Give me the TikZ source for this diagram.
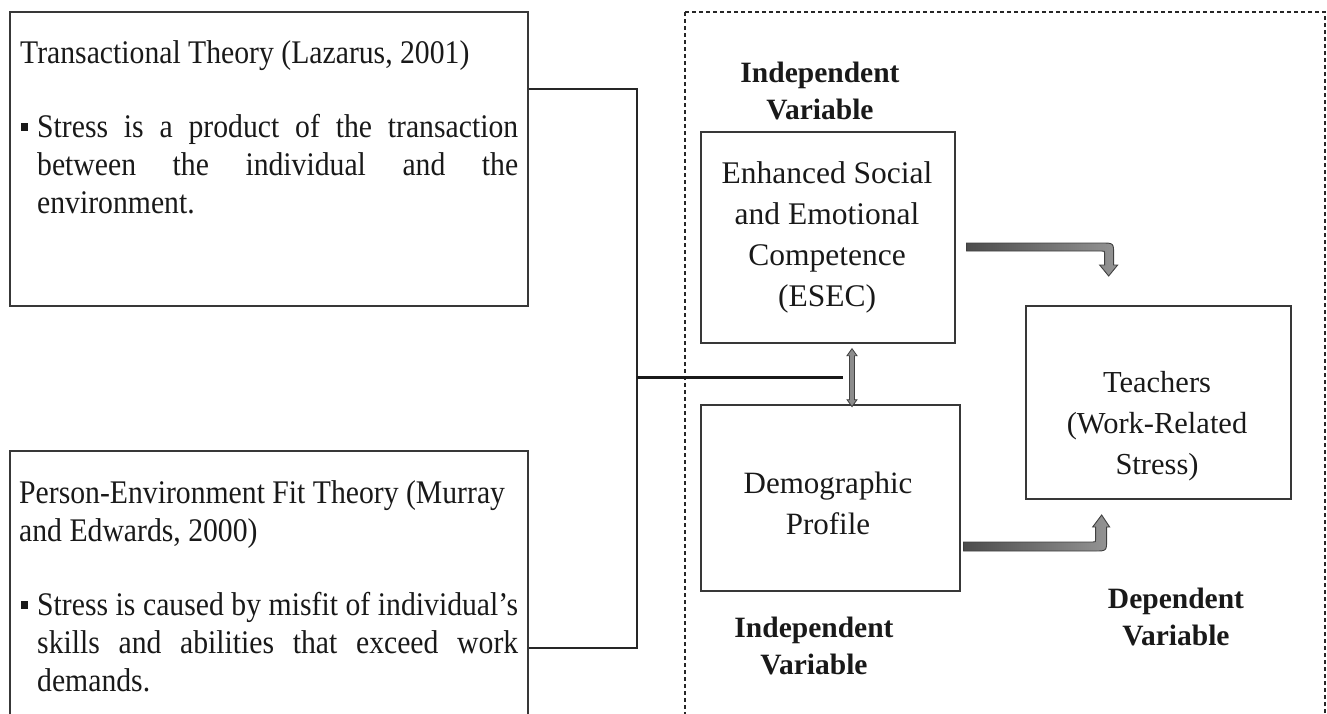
\documentclass[tikz,border=0pt]{standalone}
\usepackage{fontspec}
\setmainfont{Liberation Serif}
\newfontfamily\narrowserif{Liberation Serif}[FakeStretch=0.9] % condensed look of the theory boxes

\newcommand{\bul}{\rule[6.5pt]{6.5pt}{7.5pt}\hspace{9.5pt}} % square bullet
\newcommand{\spread}[1]{\makebox[481pt][s]{#1}} % justified line

\begin{document}
\begin{tikzpicture}[x=1pt, y=-1pt,
    box/.style={draw=black!78, line width=1.3pt, inner sep=0pt},
    body/.style={inner sep=0pt, anchor=base west, text=black!90,
      font=\narrowserif\fontsize{33}{38}\selectfont},
    inbox/.style={inner sep=0pt, anchor=base, text=black!90,
      font=\fontsize{30.5}{41}\selectfont},
    varlabel/.style={inner sep=0pt, anchor=base, text=black!90,
      font=\fontsize{29.5}{37}\selectfont\bfseries},
    link/.style={draw=black!85, line width=1.3pt},
    blockarrow/.style={left color=black!70, right color=black!42,
      draw=black!75, line width=0.9pt}]
  \useasboundingbox (0,0) rectangle (1327,713);
  \clip (0,0) rectangle (1327,713);

  % Theories on the left
  \node[box, minimum width=518pt, minimum height=294pt] (transact) at (269,159) {};
  \node[body] (transacttitle) at (20,63) {Transactional Theory (Lazarus, 2001)};
  \node[body] (transactnote) at (21,137) {\parbox[t]{500pt}{\bul\spread{Stress is a product of the transaction}\\
    \hspace*{16pt}\spread{between the individual and the}\\
    \hspace*{16pt}environment.}};

  \node[box, minimum width=518pt, minimum height=309pt] (fit) at (269,605.5) {}; % runs off the page
  \node[body] (fittitle) at (19,503) {\parbox[t]{510pt}{Person-Environment Fit Theory (Murray\\and Edwards, 2000)}};
  \node[body] (fitnote) at (21,615) {\parbox[t]{500pt}{\bul\spread{Stress is caused by misfit of individual’s}\\
    \hspace*{16pt}\spread{skills and abilities that exceed work}\\
    \hspace*{16pt}demands.}};

  % Bracket joining both theories
  \coordinate (hub) at (637,377);
  \draw[link] ([yshift=70pt]transact.east) -| (hub) |- ([yshift=-42.5pt]fit.east);

  % Conceptual frame
  \draw[black!85, line width=1.3pt, dash pattern=on 4pt off 3pt] (685,12) rectangle (1325,760);

  % Variables
  \node[varlabel] (ivtop) at (820,82) {\parbox[t]{220pt}{\centering Independent\\Variable}};
  \node[box, minimum width=254pt, minimum height=211pt] (esec) at (828,237.5) {};
  \node[inbox, font=\fontsize{31.5}{41}\selectfont] (esectext) at (827,183) {\parbox[t]{250pt}{\centering Enhanced Social\\and Emotional\\Competence\\(ESEC)}};

  \node[box, minimum width=259pt, minimum height=186pt] (demo) at (830.5,498) {};
  \node[inbox, font=\fontsize{31}{41}\selectfont] (demotext) at (828,493) {\parbox[t]{250pt}{\centering Demographic\\Profile}};
  \node[varlabel] (ivbottom) at (814,637) {\parbox[t]{220pt}{\centering Independent\\Variable}};

  \node[box, minimum width=265pt, minimum height=193pt] (teachers) at (1158.5,402.5) {};
  \node[inbox] (teacherstext) at (1157,392) {\parbox[t]{260pt}{\centering Teachers\\(Work-Related\\Stress)}};
  \node[varlabel] (dv) at (1176,608) {\parbox[t]{220pt}{\centering Dependent\\Variable}};

  % Line from the theories and the two-way arrow
  \coordinate (pair) at ([xshift=24pt]esec.south);
  \draw[line width=3pt, black!90] (hub) -- ([xshift=-9pt]pair |- hub);
  \filldraw[fill=black!45, draw=black!75, line width=0.8pt, shift={(pair)}]
    (0,5) -- (5,12) -- (2.5,12) -- (2.5,56) -- (5,56) -- (0,63) -- (-5,56)
    -- (-2.5,56) -- (-2.5,12) -- (-5,12) -- cycle;

  % Bent arrows to the dependent variable
  \shadedraw[blockarrow, shift={([xshift=11pt,yshift=-5.5pt]esec.east)}]
    (0,0) -- (135,0) .. controls (147,0) .. (147,12) -- (147,22) -- (151,22)
    -- (142,33) -- (133,22) -- (138,22) -- (138,11) .. controls (138,8) .. (135,8)
    -- (0,8) -- cycle;
  \shadedraw[blockarrow, shift={([xshift=3pt,yshift=-53pt]demo.east)}]
    (0,0) -- (131,0) .. controls (143,0) .. (143,-12) -- (143,-24) -- (146,-24)
    -- (138,-36) -- (129,-24) -- (132,-24) -- (132,-12) .. controls (132,-9) .. (129,-9)
    -- (0,-9) -- cycle;
\end{tikzpicture}
\end{document}
